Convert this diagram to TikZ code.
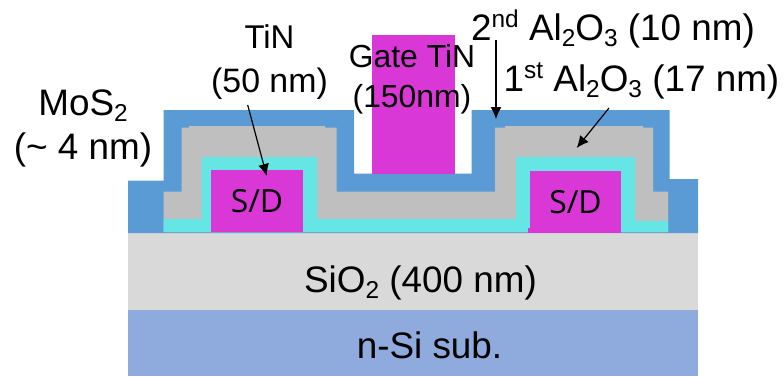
\documentclass[tikz,border=0pt]{standalone}
\usepackage{fontspec}
\usepackage{xcolor}
\setmainfont{Liberation Sans}
\newfontfamily\sdfont{Open Sans}
\usetikzlibrary{arrows.meta}
\definecolor{mosblue}{HTML}{5B9BD5}
\definecolor{oxgray}{HTML}{BFBFBF}
\definecolor{tincyan}{HTML}{66E5E5}
\definecolor{tinpink}{HTML}{D937D6}
\definecolor{sio}{HTML}{D9D9D9}
\definecolor{subblue}{HTML}{8FAADC}
\newcommand{\lowtxt}[1]{\raisebox{-0.16em}{\fontsize{24.5}{24.5}\selectfont #1}}
\newcommand{\hightxt}[1]{\raisebox{0.36em}{\fontsize{24.5}{24.5}\selectfont #1}}

\begin{document}
\begin{tikzpicture}[x=1bp,y=-1bp,
        every node/.style = {inner sep=0pt, outer sep=0pt, align=center,
        font=\fontsize{37}{44}\selectfont},
        layer/.style = {minimum width=570bp, anchor=north west},
        sdbox/.style = {fill=tinpink, anchor=north west,
        font=\sdfont\fontsize{32}{36}\selectfont},
        pointer/.style = {-{Latex[length=12bp,width=11bp]}, line width=1.2bp, black}]
	\useasboundingbox (0,0) rectangle (784,376);
	% substrate
	\node[layer, fill=sio, minimum height=77bp] (oxide) at (128,233) {};
	\node[layer, fill=subblue, minimum height=66bp] (sub) at (128,310) {};
	\node at (420.5,283) {SiO\lowtxt{2} (400 nm)};
	\node at (429.5,345) {n-Si sub.};
	% MoS2 channel
	\fill[mosblue] (128,180.5) -- (163.5,180.5) -- (163.5,110) -- (354,110) -- (354,173.5)
		-- (471.5,173.5) -- (471.5,110) -- (669.5,110) -- (669.5,179) -- (698,179)
		-- (698,233) -- (128,233) -- cycle;
	% 1st oxide
	\fill[oxgray] (163.5,232) -- (163.5,191.7) -- (181.5,191.7) -- (181.5,127.5) -- (189,127.5)
		-- (189,126) -- (325,126) -- (325,127.5) -- (336.5,127.5) -- (336.5,191.7) -- (495,191.7)
		-- (495,127.5) -- (505,127.5) -- (505,126) -- (643,126) -- (643,127.5) -- (653,127.5)
		-- (653,191.7) -- (668,191.7) -- (668,232) -- cycle;
	% TiN liner
	\fill[tincyan] (163.5,232) -- (163.5,219) -- (201.5,219) -- (201.5,157) -- (317,157)
		-- (317,219) -- (516,219) -- (516,157) -- (635,157) -- (635,221) -- (668,221)
		-- (668,232) -- cycle;
	% electrodes
	\node[sdbox, minimum width=92bp, minimum height=62.5bp] (sdleft) at (211,169.5) {\raisebox{-1.5bp}{S/D}};
	\fill[tinpink] (527.5,228) rectangle (530,233);
	\node[sdbox, minimum width=91bp, minimum height=62bp] (sdright) at (530,171) {S/D};
	\node[fill=tinpink, anchor=north west, minimum width=83.5bp, minimum height=139bp] (gate) at (371.5,34.5) {};
	% labels
	\node (moslabel) at (83,128.5) {MoS\lowtxt{2}\\(\textasciitilde{} 4 nm)};
	\node[font=\fontsize{33}{44}\selectfont] (tinlabel) at (269.5,62.5) {TiN\\{\fontsize{34}{44}\selectfont (50 nm)}};
	\node[font=\fontsize{32}{40}\selectfont] (gatelabel) at (412,79) {Gate TiN\\(150nm)};
	\node (seclabel) at (613,29) {2\hightxt{nd} Al\lowtxt{2}O\lowtxt{3} (10 nm)};
	\node (firstlabel) at (641.5,81) {1\hightxt{st} Al\lowtxt{2}O\lowtxt{3} (17 nm)};
	% pointers
	\coordinate (tinfrom) at (247.7,105);
	\coordinate (tinto) at (266.7,176);
	\coordinate (secfrom) at (496,40);
	\coordinate (secto) at (496,119);
	\coordinate (firstfrom) at (609,108);
	\coordinate (firstto) at (576.7,148);
	\draw[pointer] (tinfrom) -- (tinto);
	\draw[pointer] (secfrom) -- (secto);
	\draw[pointer] (firstfrom) -- (firstto);
\end{tikzpicture}
\end{document}
